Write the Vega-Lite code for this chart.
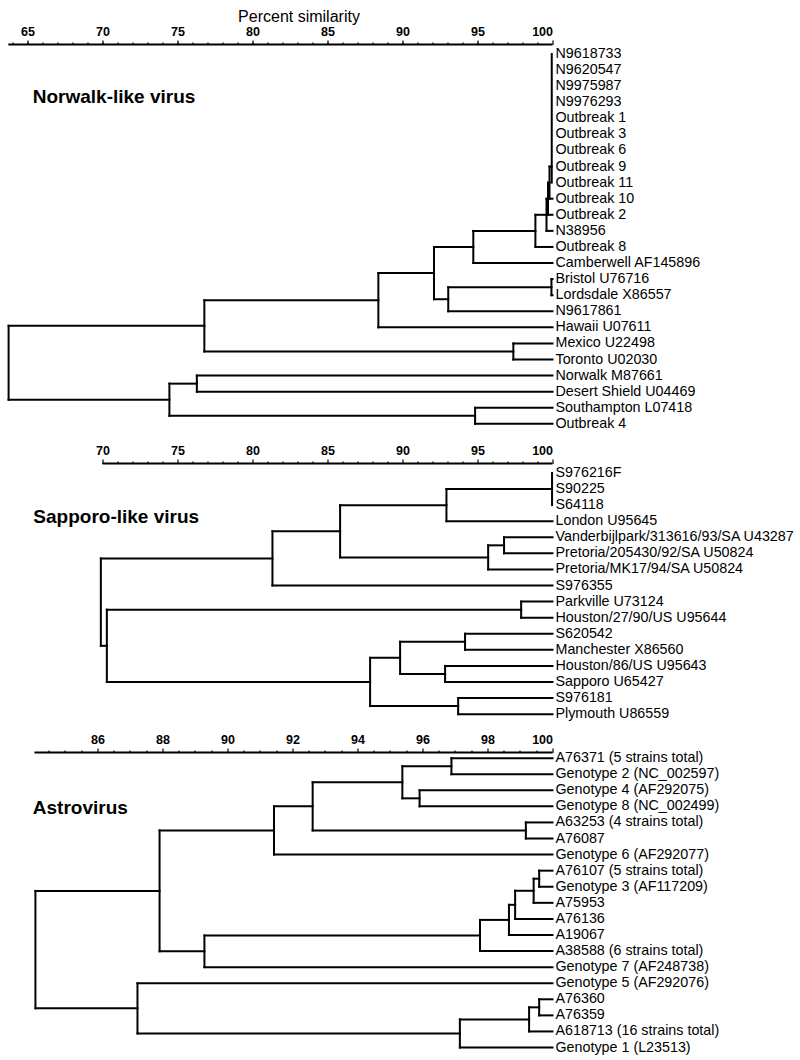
{
  "$schema": "https://vega.github.io/schema/vega-lite/v6.json",
  "autosize": {"type": "pad"},
  "padding": {"left": 6.5, "top": 7.5, "right": 0, "bottom": 0},
  "background": "white",
  "bounds": "flush",
  "spacing": 30,
  "config": {
    "view": {"stroke": null},
    "font": "Liberation Sans",
    "axis": {
      "domain": false, "grid": false, "labelFontWeight": "bold", "labelFontSize": 12.5,
      "labelColor": "black", "labelFont": "Liberation Sans", "tickColor": "black",
      "tickSize": 4.5, "tickWidth": 1.2, "labelPadding": 2, "titleColor": "black",
      "titleFont": "Liberation Sans"
    }
  },
  "datasets": {
    "seg1": [
      {"x1":99.95,"x2":99.95,"y1":0,"y2":8},
      {"x1":99.8,"x2":99.8,"y1":7,"y2":9},{"x1":99.8,"x2":99.95,"y1":7,"y2":7},{"x1":99.8,"x2":100,"y1":9,"y2":9},
      {"x1":99.7,"x2":99.7,"y1":8,"y2":10},{"x1":99.7,"x2":99.8,"y1":8,"y2":8},{"x1":99.7,"x2":100,"y1":10,"y2":10},
      {"x1":99.6,"x2":99.6,"y1":9,"y2":11},{"x1":99.6,"x2":99.7,"y1":9,"y2":9},{"x1":99.6,"x2":100,"y1":11,"y2":11},
      {"x1":98.86,"x2":98.86,"y1":10,"y2":12},{"x1":98.86,"x2":99.6,"y1":10,"y2":10},{"x1":98.86,"x2":100,"y1":12,"y2":12},
      {"x1":94.72,"x2":94.72,"y1":11,"y2":13},{"x1":94.72,"x2":98.86,"y1":11,"y2":11},{"x1":94.72,"x2":100,"y1":13,"y2":13},
      {"x1":99.93,"x2":99.93,"y1":14,"y2":15},{"x1":99.93,"x2":100,"y1":14,"y2":14},{"x1":99.93,"x2":100,"y1":15,"y2":15},
      {"x1":93.05,"x2":93.05,"y1":14.5,"y2":16},{"x1":93.05,"x2":99.93,"y1":14.5,"y2":14.5},{"x1":93.05,"x2":100,"y1":16,"y2":16},
      {"x1":92.1,"x2":92.1,"y1":12,"y2":15.25},{"x1":92.1,"x2":94.72,"y1":12,"y2":12},{"x1":92.1,"x2":93.05,"y1":15.25,"y2":15.25},
      {"x1":88.39,"x2":88.39,"y1":13.625,"y2":17},{"x1":88.39,"x2":92.1,"y1":13.625,"y2":13.625},{"x1":88.39,"x2":100,"y1":17,"y2":17},
      {"x1":97.39,"x2":97.39,"y1":18,"y2":19},{"x1":97.39,"x2":100,"y1":18,"y2":18},{"x1":97.39,"x2":100,"y1":19,"y2":19},
      {"x1":76.79,"x2":76.79,"y1":15.3125,"y2":18.5},{"x1":76.79,"x2":88.39,"y1":15.3125,"y2":15.3125},{"x1":76.79,"x2":97.39,"y1":18.5,"y2":18.5},
      {"x1":76.29,"x2":76.29,"y1":20,"y2":21},{"x1":76.29,"x2":100,"y1":20,"y2":20},{"x1":76.29,"x2":100,"y1":21,"y2":21},
      {"x1":94.84,"x2":94.84,"y1":22,"y2":23},{"x1":94.84,"x2":100,"y1":22,"y2":22},{"x1":94.84,"x2":100,"y1":23,"y2":23},
      {"x1":74.46,"x2":74.46,"y1":20.5,"y2":22.5},{"x1":74.46,"x2":76.29,"y1":20.5,"y2":20.5},{"x1":74.46,"x2":94.84,"y1":22.5,"y2":22.5},
      {"x1":63.74,"x2":63.74,"y1":16.906,"y2":21.5},{"x1":63.74,"x2":76.79,"y1":16.906,"y2":16.906},{"x1":63.74,"x2":74.46,"y1":21.5,"y2":21.5}
    ],
    "leaves1": [
      {"row":0,"name":"N9618733"},{"row":1,"name":"N9620547"},{"row":2,"name":"N9975987"},{"row":3,"name":"N9976293"},
      {"row":4,"name":"Outbreak 1"},{"row":5,"name":"Outbreak 3"},{"row":6,"name":"Outbreak 6"},{"row":7,"name":"Outbreak 9"},
      {"row":8,"name":"Outbreak 11"},{"row":9,"name":"Outbreak 10"},{"row":10,"name":"Outbreak 2"},{"row":11,"name":"N38956"},
      {"row":12,"name":"Outbreak 8"},{"row":13,"name":"Camberwell AF145896"},{"row":14,"name":"Bristol U76716"},
      {"row":15,"name":"Lordsdale X86557"},{"row":16,"name":"N9617861"},{"row":17,"name":"Hawaii U07611"},
      {"row":18,"name":"Mexico U22498"},{"row":19,"name":"Toronto U02030"},{"row":20,"name":"Norwalk M87661"},
      {"row":21,"name":"Desert Shield U04469"},{"row":22,"name":"Southampton L07418"},{"row":23,"name":"Outbreak 4"}
    ],
    "seg2": [
      {"x1":99.97,"x2":99.97,"y1":0,"y2":2},
      {"x1":92.93,"x2":92.93,"y1":1,"y2":3},{"x1":92.93,"x2":99.97,"y1":1,"y2":1},{"x1":92.93,"x2":100,"y1":3,"y2":3},
      {"x1":96.77,"x2":96.77,"y1":4,"y2":5},{"x1":96.77,"x2":100,"y1":4,"y2":4},{"x1":96.77,"x2":100,"y1":5,"y2":5},
      {"x1":95.71,"x2":95.71,"y1":4.5,"y2":6},{"x1":95.71,"x2":96.77,"y1":4.5,"y2":4.5},{"x1":95.71,"x2":100,"y1":6,"y2":6},
      {"x1":85.84,"x2":85.84,"y1":2,"y2":5.25},{"x1":85.84,"x2":92.93,"y1":2,"y2":2},{"x1":85.84,"x2":95.71,"y1":5.25,"y2":5.25},
      {"x1":81.33,"x2":81.33,"y1":3.625,"y2":7},{"x1":81.33,"x2":85.84,"y1":3.625,"y2":3.625},{"x1":81.33,"x2":100,"y1":7,"y2":7},
      {"x1":97.91,"x2":97.91,"y1":8,"y2":9},{"x1":97.91,"x2":100,"y1":8,"y2":8},{"x1":97.91,"x2":100,"y1":9,"y2":9},
      {"x1":94.17,"x2":94.17,"y1":10,"y2":11},{"x1":94.17,"x2":100,"y1":10,"y2":10},{"x1":94.17,"x2":100,"y1":11,"y2":11},
      {"x1":92.84,"x2":92.84,"y1":12,"y2":13},{"x1":92.84,"x2":100,"y1":12,"y2":12},{"x1":92.84,"x2":100,"y1":13,"y2":13},
      {"x1":89.84,"x2":89.84,"y1":10.5,"y2":12.5},{"x1":89.84,"x2":94.17,"y1":10.5,"y2":10.5},{"x1":89.84,"x2":92.84,"y1":12.5,"y2":12.5},
      {"x1":93.71,"x2":93.71,"y1":14,"y2":15},{"x1":93.71,"x2":100,"y1":14,"y2":14},{"x1":93.71,"x2":100,"y1":15,"y2":15},
      {"x1":87.84,"x2":87.84,"y1":11.5,"y2":14.5},{"x1":87.84,"x2":89.84,"y1":11.5,"y2":11.5},{"x1":87.84,"x2":93.71,"y1":14.5,"y2":14.5},
      {"x1":70.29,"x2":70.29,"y1":8.5,"y2":13},{"x1":70.29,"x2":97.91,"y1":8.5,"y2":8.5},{"x1":70.29,"x2":87.84,"y1":13,"y2":13},
      {"x1":69.89,"x2":69.89,"y1":5.3125,"y2":10.75},{"x1":69.89,"x2":81.33,"y1":5.3125,"y2":5.3125},{"x1":69.89,"x2":70.29,"y1":10.75,"y2":10.75}
    ],
    "leaves2": [
      {"row":0,"name":"S976216F"},{"row":1,"name":"S90225"},{"row":2,"name":"S64118"},{"row":3,"name":"London U95645"},
      {"row":4,"name":"Vanderbijlpark/313616/93/SA U43287"},{"row":5,"name":"Pretoria/205430/92/SA U50824"},
      {"row":6,"name":"Pretoria/MK17/94/SA U50824"},{"row":7,"name":"S976355"},{"row":8,"name":"Parkville U73124"},
      {"row":9,"name":"Houston/27/90/US U95644"},{"row":10,"name":"S620542"},{"row":11,"name":"Manchester X86560"},
      {"row":12,"name":"Houston/86/US U95643"},{"row":13,"name":"Sapporo U65427"},{"row":14,"name":"S976181"},
      {"row":15,"name":"Plymouth U86559"}
    ],
    "seg3": [
      {"x1":96.89,"x2":96.89,"y1":0,"y2":1},{"x1":96.89,"x2":100,"y1":0,"y2":0},{"x1":96.89,"x2":100,"y1":1,"y2":1},
      {"x1":95.91,"x2":95.91,"y1":2,"y2":3},{"x1":95.91,"x2":100,"y1":2,"y2":2},{"x1":95.91,"x2":100,"y1":3,"y2":3},
      {"x1":95.38,"x2":95.38,"y1":0.5,"y2":2.5},{"x1":95.38,"x2":96.89,"y1":0.5,"y2":0.5},{"x1":95.38,"x2":95.91,"y1":2.5,"y2":2.5},
      {"x1":99.18,"x2":99.18,"y1":4,"y2":5},{"x1":99.18,"x2":100,"y1":4,"y2":4},{"x1":99.18,"x2":100,"y1":5,"y2":5},
      {"x1":92.62,"x2":92.62,"y1":1.5,"y2":4.5},{"x1":92.62,"x2":95.38,"y1":1.5,"y2":1.5},{"x1":92.62,"x2":99.18,"y1":4.5,"y2":4.5},
      {"x1":91.43,"x2":91.43,"y1":3,"y2":6},{"x1":91.43,"x2":92.62,"y1":3,"y2":3},{"x1":91.43,"x2":100,"y1":6,"y2":6},
      {"x1":99.59,"x2":99.59,"y1":7,"y2":8},{"x1":99.59,"x2":100,"y1":7,"y2":7},{"x1":99.59,"x2":100,"y1":8,"y2":8},
      {"x1":99.42,"x2":99.42,"y1":7.5,"y2":9},{"x1":99.42,"x2":99.59,"y1":7.5,"y2":7.5},{"x1":99.42,"x2":100,"y1":9,"y2":9},
      {"x1":98.85,"x2":98.85,"y1":8.25,"y2":10},{"x1":98.85,"x2":99.42,"y1":8.25,"y2":8.25},{"x1":98.85,"x2":100,"y1":10,"y2":10},
      {"x1":98.66,"x2":98.66,"y1":9.125,"y2":11},{"x1":98.66,"x2":98.85,"y1":9.125,"y2":9.125},{"x1":98.66,"x2":100,"y1":11,"y2":11},
      {"x1":97.77,"x2":97.77,"y1":10.0625,"y2":12},{"x1":97.77,"x2":98.66,"y1":10.0625,"y2":10.0625},{"x1":97.77,"x2":100,"y1":12,"y2":12},
      {"x1":89.29,"x2":89.29,"y1":11.03,"y2":13},{"x1":89.29,"x2":97.77,"y1":11.03,"y2":11.03},{"x1":89.29,"x2":100,"y1":13,"y2":13},
      {"x1":87.91,"x2":87.91,"y1":4.5,"y2":12.016},{"x1":87.91,"x2":91.43,"y1":4.5,"y2":4.5},{"x1":87.91,"x2":89.29,"y1":12.016,"y2":12.016},
      {"x1":99.59,"x2":99.59,"y1":15,"y2":16},{"x1":99.59,"x2":100,"y1":15,"y2":15},{"x1":99.59,"x2":100,"y1":16,"y2":16},
      {"x1":99.28,"x2":99.28,"y1":15.5,"y2":17},{"x1":99.28,"x2":99.59,"y1":15.5,"y2":15.5},{"x1":99.28,"x2":100,"y1":17,"y2":17},
      {"x1":97.15,"x2":97.15,"y1":16.25,"y2":18},{"x1":97.15,"x2":99.28,"y1":16.25,"y2":16.25},{"x1":97.15,"x2":100,"y1":18,"y2":18},
      {"x1":87.23,"x2":87.23,"y1":14,"y2":17.125},{"x1":87.23,"x2":100,"y1":14,"y2":14},{"x1":87.23,"x2":97.15,"y1":17.125,"y2":17.125},
      {"x1":84.09,"x2":84.09,"y1":8.258,"y2":15.5625},{"x1":84.09,"x2":87.91,"y1":8.258,"y2":8.258},{"x1":84.09,"x2":87.23,"y1":15.5625,"y2":15.5625}
    ],
    "leaves3": [
      {"row":0,"name":"A76371 (5 strains total)"},{"row":1,"name":"Genotype 2 (NC_002597)"},
      {"row":2,"name":"Genotype 4 (AF292075)"},{"row":3,"name":"Genotype 8 (NC_002499)"},
      {"row":4,"name":"A63253 (4 strains total)"},{"row":5,"name":"A76087"},{"row":6,"name":"Genotype 6 (AF292077)"},
      {"row":7,"name":"A76107 (5 strains total)"},{"row":8,"name":"Genotype 3 (AF117209)"},{"row":9,"name":"A75953"},
      {"row":10,"name":"A76136"},{"row":11,"name":"A19067"},{"row":12,"name":"A38588 (6 strains total)"},
      {"row":13,"name":"Genotype 7 (AF248738)"},{"row":14,"name":"Genotype 5 (AF292076)"},{"row":15,"name":"A76360"},
      {"row":16,"name":"A76359"},{"row":17,"name":"A618713 (16 strains total)"},{"row":18,"name":"Genotype 1 (L23513)"}
    ]
  },
  "vconcat": [
    {
      "width": 545, "height": 389,
      "resolve": {"axis": {"x": "independent"}},
      "layer": [
        {
          "data": {"name": "seg1"},
          "mark": {"type": "rule", "strokeWidth": 2, "color": "black", "strokeCap": "square"},
          "encoding": {
            "x": {"field": "x1", "type": "quantitative",
              "scale": {"domain": [63.6667, 100], "nice": false, "zero": false},
              "axis": {"orient": "top", "values": [65,70,75,80,85,90,95,100], "title": "Percent similarity",
                "titleFontSize": 16, "titleFontWeight": "normal", "titleX": 291, "titleY": -23.5,
                "titleBaseline": "alphabetic", "titleAlign": "center"}},
            "x2": {"field": "x2"},
            "y": {"field": "y1", "type": "quantitative",
              "scale": {"domain": [-0.59, 23.6], "reverse": true, "nice": false, "zero": false}, "axis": null},
            "y2": {"field": "y2"}
          }
        },
        {
          "data": {"name": "leaves1"},
          "mark": {"type": "text", "align": "left", "baseline": "middle", "dx": 3, "fontSize": 14.3, "color": "black"},
          "encoding": {
            "x": {"datum": 100, "type": "quantitative",
              "axis": {"orient": "top", "values": [64,65,66,67,68,69,70,71,72,73,74,75,76,77,78,79,80,81,82,83,84,85,86,87,88,89,90,91,92,93,94,95,96,97,98,99],
                "labels": false, "tickSize": 2.5, "title": null}},
            "y": {"field": "row", "type": "quantitative", "axis": null},
            "text": {"field": "name"}
          }
        },
        {
          "data": {"values": [{"label": "Norwalk-like virus"}]},
          "mark": {"type": "text", "align": "left", "baseline": "middle", "fontSize": 19, "fontWeight": "bold", "color": "black"},
          "encoding": {
            "x": {"datum": 65.35, "type": "quantitative", "axis": null},
            "y": {"datum": 2.705, "type": "quantitative", "axis": null},
            "text": {"field": "label"}
          }
        },
        {
          "data": {"values": [{}]},
          "mark": {"type": "rule", "strokeWidth": 2, "color": "black"},
          "encoding": {
            "x": {"datum": 63.72, "type": "quantitative", "axis": null},
            "x2": {"datum": 100},
            "y": {"datum": -0.59, "type": "quantitative", "axis": null}
          }
        }
      ]
    },
    {
      "width": 545, "height": 259,
      "resolve": {"axis": {"x": "independent"}},
      "layer": [
        {
          "data": {"name": "seg2"},
          "mark": {"type": "rule", "strokeWidth": 2, "color": "black", "strokeCap": "square"},
          "encoding": {
            "x": {"field": "x1", "type": "quantitative",
              "scale": {"domain": [63.6667, 100], "nice": false, "zero": false},
              "axis": {"orient": "top", "values": [70,75,80,85,90,95,100], "title": null}},
            "x2": {"field": "x2"},
            "y": {"field": "y1", "type": "quantitative",
              "scale": {"domain": [-0.59, 15.52], "reverse": true, "nice": false, "zero": false}, "axis": null},
            "y2": {"field": "y2"}
          }
        },
        {
          "data": {"name": "leaves2"},
          "mark": {"type": "text", "align": "left", "baseline": "middle", "dx": 3, "fontSize": 14.3, "color": "black"},
          "encoding": {
            "x": {"datum": 100, "type": "quantitative",
              "axis": {"orient": "top", "values": [71,72,73,74,76,77,78,79,81,82,83,84,86,87,88,89,91,92,93,94,96,97,98,99],
                "labels": false, "tickSize": 2.5, "title": null}},
            "y": {"field": "row", "type": "quantitative", "axis": null},
            "text": {"field": "name"}
          }
        },
        {
          "data": {"values": [{"label": "Sapporo-like virus"}]},
          "mark": {"type": "text", "align": "left", "baseline": "middle", "fontSize": 19, "fontWeight": "bold", "color": "black"},
          "encoding": {
            "x": {"datum": 65.39, "type": "quantitative", "axis": null},
            "y": {"datum": 2.73, "type": "quantitative", "axis": null},
            "text": {"field": "label"}
          }
        },
        {
          "data": {"values": [{}]},
          "mark": {"type": "rule", "strokeWidth": 2, "color": "black"},
          "encoding": {
            "x": {"datum": 70, "type": "quantitative", "axis": null},
            "x2": {"datum": 100},
            "y": {"datum": -0.59, "type": "quantitative", "axis": null}
          }
        }
      ]
    },
    {
      "width": 545, "height": 305,
      "resolve": {"axis": {"x": "independent"}},
      "layer": [
        {
          "data": {"name": "seg3"},
          "mark": {"type": "rule", "strokeWidth": 2, "color": "black", "strokeCap": "square"},
          "encoding": {
            "x": {"field": "x1", "type": "quantitative",
              "scale": {"domain": [83.2308, 100], "nice": false, "zero": false},
              "axis": {"orient": "top", "values": [86,88,90,92,94,96,98,100], "title": null}},
            "x2": {"field": "x2"},
            "y": {"field": "y1", "type": "quantitative",
              "scale": {"domain": [-0.35, 18.62], "reverse": true, "nice": false, "zero": false}, "axis": null},
            "y2": {"field": "y2"}
          }
        },
        {
          "data": {"name": "leaves3"},
          "mark": {"type": "text", "align": "left", "baseline": "middle", "dx": 3, "fontSize": 14.3, "color": "black"},
          "encoding": {
            "x": {"datum": 100, "type": "quantitative",
              "axis": {"orient": "top", "values": [84.5,85,85.5,86.5,87,87.5,88.5,89,89.5,90.5,91,91.5,92.5,93,93.5,94.5,95,95.5,96.5,97,97.5,98.5,99,99.5],
                "labels": false, "tickSize": 2.5, "title": null}},
            "y": {"field": "row", "type": "quantitative", "axis": null},
            "text": {"field": "name"}
          }
        },
        {
          "data": {"values": [{"label": "Astrovirus"}]},
          "mark": {"type": "text", "align": "left", "baseline": "middle", "fontSize": 19, "fontWeight": "bold", "color": "black"},
          "encoding": {
            "x": {"datum": 84.01, "type": "quantitative", "axis": null},
            "y": {"datum": 3.11, "type": "quantitative", "axis": null},
            "text": {"field": "label"}
          }
        },
        {
          "data": {"values": [{}]},
          "mark": {"type": "rule", "strokeWidth": 2, "color": "black"},
          "encoding": {
            "x": {"datum": 84.06, "type": "quantitative", "axis": null},
            "x2": {"datum": 100},
            "y": {"datum": -0.35, "type": "quantitative", "axis": null}
          }
        }
      ]
    }
  ]
}
